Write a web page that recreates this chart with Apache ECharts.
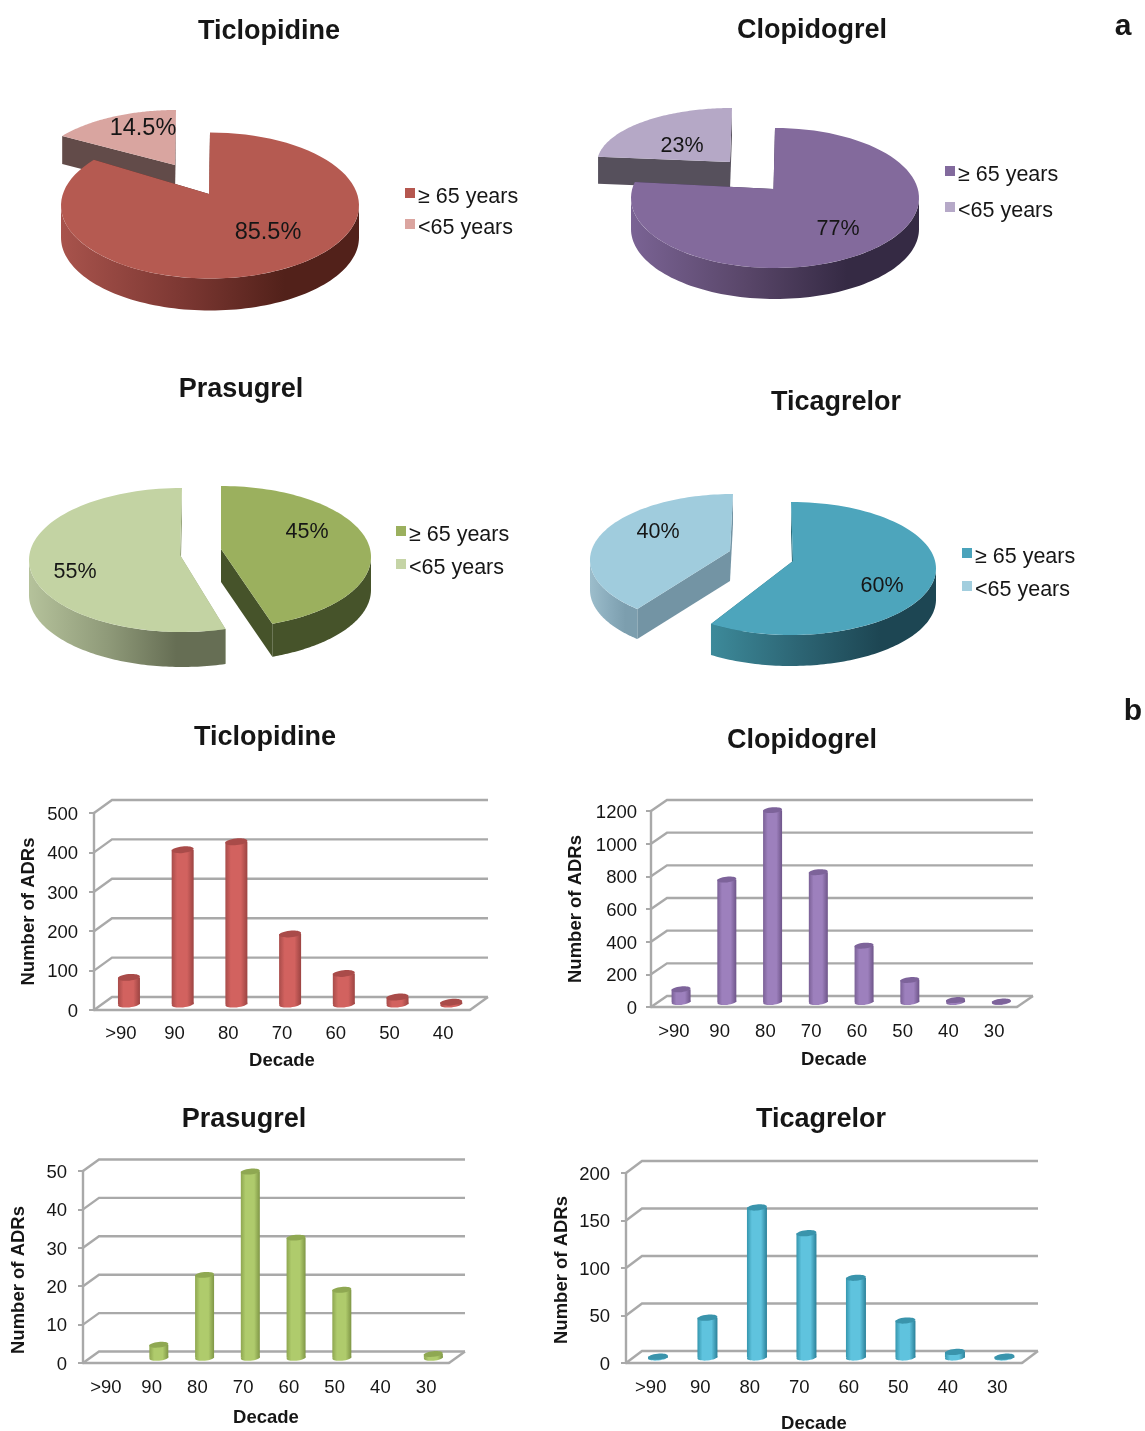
<!DOCTYPE html>
<html><head><meta charset="utf-8">
<style>html,body{margin:0;padding:0;background:#fff}#c{width:1145px;height:1431px}</style>
<script src="https://cdn.jsdelivr.net/npm/echarts@6/dist/echarts.min.js"></script>
</head><body><div id="c"></div>
<script>
// ---- data ----
const drugs = ['Ticlopidine', 'Clopidogrel', 'Prasugrel', 'Ticagrelor'];
const ageLabels = ['≥ 65 years', '<65 years'];
const shareTiclopidine = [85.5, 14.5];
const shareClopidogrel = [77, 23];
const sharePrasugrel = [45, 55];
const shareTicagrelor = [60, 40];
const decades7 = ['>90', '90', '80', '70', '60', '50', '40'];
const decades8 = ['>90', '90', '80', '70', '60', '50', '40', '30'];
const adrTiclopidine = [68, 392, 412, 178, 78, 18, 5];
const adrClopidogrel = [78, 750, 1175, 795, 345, 135, 12, 3];
const adrPrasugrel = [0, 3.4, 21.6, 48.5, 31.3, 17.7, 0, 1];
const adrTicagrelor = [1, 42, 158, 131, 84, 39, 6, 1];

// ---- layout and styling ----
const FONT = '"Liberation Sans", Arial, sans-serif';
const INK = '#161616';
const GRID = '#a9a9a9';

// nudge: small perspective correction, in degrees, of where the slice's edges land on its ellipse
const piePanels = [
  { values: shareTiclopidine, legend: [405, 186, 31], icon: ['#b5574f', '#dba5a0'], labelSize: 23.5,
    slices: [
      { cx: 210, cy: 205.5, rx: 149, ry: 73, ax: 209, ay: 194, depth: 32, top: '#b55a51', cut: '#5a2a24', nudge: [0, 1],
        wall: ['#a8534c', '#7d3833', '#52211a', '#52211a'], label: [268, 232.5] },
      { cx: 176, cy: 177, rx: 144, ry: 67, ax: 175, ay: 165, depth: 28, top: '#d9a5a0', cut: '#624b49', nudge: [0, 0],
        wall: ['#624b49', '#624b49', '#624b49', '#624b49'], label: [143, 128.5] } ] },
  { values: shareClopidogrel, legend: [945, 164, 36], icon: ['#826a9d', '#b6a9c8'], labelSize: 21.5,
    slices: [
      { cx: 775, cy: 198, rx: 144, ry: 70, ax: 773.5, ay: 189, depth: 31, top: '#836a9c', cut: '#3d3050', nudge: [0, 6],
        wall: ['#7a6394', '#594669', '#352a44', '#352a44'], label: [838, 229] },
      { cx: 732, cy: 163.6, rx: 135, ry: 55.6, ax: 730, ay: 162, depth: 27, top: '#b5a8c6', cut: '#56505c', nudge: [0, 0],
        wall: ['#56505c', '#56505c', '#56505c', '#56505c'], label: [682, 146] } ] },
  { values: sharePrasugrel, legend: [396, 524, 33], icon: ['#9bb05e', '#c5d4a6'], labelSize: 21.5,
    slices: [
      { cx: 221, cy: 557, rx: 150, ry: 71, ax: 221, ay: 549, depth: 33, top: '#9bb05e', cut: '#46532a', nudge: [0, -2],
        wall: ['#46532a', '#46532a', '#46532a', '#46532a'], label: [307, 532] },
      { cx: 182, cy: 560, rx: 153, ry: 72, ax: 180, ay: 555, depth: 35, top: '#c3d3a3', cut: '#9aa77f', nudge: [1.5, 0],
        wall: ['#b5c29b', '#8f9a79', '#666e54', '#666e54'], label: [75, 572] } ] },
  { values: shareTicagrelor, legend: [962, 546, 33], icon: ['#4aa3bb', '#a2cede'], labelSize: 21.5,
    slices: [
      { cx: 791, cy: 568.5, rx: 145, ry: 66.5, ax: 793, ay: 561, depth: 31, top: '#4da5bc', cut: '#2a6d7b', nudge: [0, -2.5],
        wall: ['#3d8a9a', '#2c6473', '#1d4653', '#1d4653'], label: [882, 586] },
      { cx: 733, cy: 560, rx: 143, ry: 66, ax: 730, ay: 551, depth: 30, top: '#a0ccdd', cut: '#7394a4', nudge: [6, 0],
        wall: ['#9cbdcb', '#8aacbc', '#7c9eae', '#7c9eae'], label: [658, 532] } ] }
];

const barPanels = [
  { cats: decades7, values: adrTiclopidine, max: 500, step: 100, left: 94, top: 813, width: 376, height: 197, dx: 18, dy: 13,
    rx: 11, color: ['#a84c4a', '#d2625f', '#d2625f', '#9c4442', '#a94b49'], yGap: 56, yPad: [0, 0, 0, 0], xGap: 41, xPad: [0, 0, 0, 0], yMargin: 16, xMargin: 14 },
  { cats: decades8, values: adrClopidogrel, max: 1200, step: 200, left: 651, top: 811, width: 366, height: 196, dx: 16, dy: 11,
    rx: 9.5, color: ['#7a6096', '#9d80bd', '#9d80bd', '#6e5589', '#7d639a'], yGap: 66, yPad: [0, 0, 0, 0], xGap: 43, xPad: [0, 0, 0, 0], yMargin: 14, xMargin: 15 },
  { cats: decades8, values: adrPrasugrel, max: 50, step: 10, left: 83, top: 1171, width: 366, height: 192, dx: 16, dy: 11.5,
    rx: 9.5, color: ['#8ea650', '#afcb6c', '#afcb6c', '#7f9646', '#8fa852'], yGap: 55, yPad: [0, 26, 0, 0], xGap: 45, xPad: [0, 0, 0, 0], yMargin: 16, xMargin: 15 },
  { cats: decades8, values: adrTicagrelor, max: 200, step: 50, left: 626, top: 1173, width: 396, height: 190, dx: 16, dy: 12,
    rx: 10, color: ['#3596ae', '#5fc3de', '#5fc3de', '#2b8098', '#3a94ac'], yGap: 55, yPad: [0, 4, 0, 0], xGap: 51, xPad: [0, 20, 0, 0], yMargin: 16, xMargin: 15 }
];

const titleSpots = [
  [drugs[0], 269, 30], [drugs[1], 812, 29], [drugs[2], 241, 388], [drugs[3], 836, 401],
  [drugs[0], 265, 736], [drugs[1], 802, 739], [drugs[2], 244, 1118], [drugs[3], 821, 1118]
];

// ---- renderers ----
function gradient(stops) {
  const at = [0, 0.4, 0.75, 1];
  return new echarts.graphic.LinearGradient(0, 0, 1, 0, stops.map((c, i) => ({ offset: at[i], color: c })));
}
function sliceRenderer(panel, idx) {
  const s = panel.slices[idx];
  const total = panel.values.reduce((a, b) => a + b, 0);
  const before = panel.values.slice(0, idx).reduce((a, b) => a + b, 0);
  return function (params, api) {
    const a0 = before / total * 2 * Math.PI + s.nudge[0] * Math.PI / 180;
    const a1 = (before + api.value(0)) / total * 2 * Math.PI + s.nudge[1] * Math.PI / 180;
    const pt = t => [s.cx + s.rx * Math.sin(t), s.cy - s.ry * Math.cos(t)];
    const arc = [];
    const N = 90;
    for (let i = 0; i <= N; i++) arc.push(pt(a0 + (a1 - a0) * i / N));
    const down = p => [p[0], p[1] + s.depth];
    const apex = [s.ax, s.ay];
    const kids = [];
    [arc[0], arc[N]].forEach(p => kids.push({
      type: 'polygon', shape: { points: [apex, p, down(p), down(apex)] },
      style: { fill: s.cut }
    }));
    const lo = Math.max(a0, Math.PI / 2), hi = Math.min(a1, 1.5 * Math.PI);
    if (hi > lo) {
      const edge = [];
      for (let i = 0; i <= N; i++) edge.push(pt(lo + (hi - lo) * i / N));
      kids.push({
        type: 'polygon', shape: { points: edge.concat(edge.slice().reverse().map(down)) },
        style: { fill: gradient(s.wall) }
      });
    }
    kids.push({ type: 'polygon', shape: { points: [apex].concat(arc) }, style: { fill: s.top } });
    kids.push({
      type: 'text', x: s.label[0], y: s.label[1],
      style: { text: api.value(0) + '%', fill: INK, font: panel.labelSize + 'px ' + FONT, align: 'center', verticalAlign: 'middle' }
    });
    return { type: 'group', children: kids };
  };
}
function frameRenderer(p) {
  return function (params, api) {
    const rect = params.coordSys;
    const y = api.coord([0, api.value(1)])[1];
    const right = rect.x + rect.width;
    const ls = { stroke: GRID, lineWidth: 2.4, fill: null };
    const kids = [{
      type: 'polyline',
      shape: { points: [[rect.x, y], [rect.x + p.dx, y - p.dy], [right + p.dx, y - p.dy]] },
      style: ls
    }];
    if (api.value(1) === 0) kids.push({
      type: 'line', shape: { x1: right, y1: y, x2: right + p.dx, y2: y - p.dy }, style: ls
    });
    return { type: 'group', children: kids };
  };
}
function cylinderRenderer(p) {
  const c = p.color;
  return function (params, api) {
    const v = api.value(1);
    if (!v) return null;
    const base = api.coord([api.value(0), 0]);
    const top = api.coord([api.value(0), v]);
    const x = base[0] + p.dx * 0.45, y0 = base[1] - p.dy * 0.45, y1 = top[1] - p.dy * 0.45;
    const ry = p.rx * 0.3, tilt = 0.1;
    const body = () => new echarts.graphic.LinearGradient(0, 0, 1, 0, [
      { offset: 0, color: c[0] }, { offset: 0.25, color: c[1] }, { offset: 0.7, color: c[2] }, { offset: 1, color: c[3] }
    ]);
    return {
      type: 'group', children: [
        { type: 'ellipse', x: x, y: y0, rotation: tilt, shape: { cx: 0, cy: 0, rx: p.rx, ry: ry }, style: { fill: body() } },
        { type: 'rect', shape: { x: x - p.rx, y: y1, width: p.rx * 2, height: y0 - y1 }, style: { fill: body() } },
        { type: 'ellipse', x: x, y: y1, rotation: tilt, shape: { cx: 0, cy: 0, rx: p.rx, ry: ry }, style: { fill: c[4] } }
      ]
    };
  };
}

// ---- option ----
const title = titleSpots.map(t => ({
  text: t[0], left: t[1], top: t[2] - 12, textAlign: 'center', padding: 0,
  textStyle: { fontFamily: FONT, fontSize: 27, fontWeight: 'bold', color: INK }
}));
[['a', 1123, 24], ['b', 1133, 709]].forEach(t => title.push({
  text: t[0], left: t[1], top: t[2] - 12, textAlign: 'center', padding: 0,
  textStyle: { fontFamily: FONT, fontSize: 30, fontWeight: 'bold', color: INK }
}));

const legend = piePanels.map(p => ({
  orient: 'vertical', left: p.legend[0], top: p.legend[1], padding: 0,
  icon: 'rect', itemWidth: 10, itemHeight: 10, itemGap: p.legend[2] - 22, selectedMode: false,
  data: ageLabels.map((n, i) => ({ name: n, itemStyle: { color: p.icon[i] } })),
  formatter: '{t|{name}}',
  textStyle: { fontFamily: FONT, fontSize: 21.5, color: INK,
    rich: { t: { fontFamily: FONT, fontSize: 21.5, color: INK, padding: [8, 0, 0, -2] } } }
}));

const series = [];
piePanels.forEach(p => {
  [1, 0].forEach(i => series.push({
    type: 'custom', name: ageLabels[i], coordinateSystem: 'none', z: 3 + (i === 0 ? 1 : 0), silent: true,
    itemStyle: { color: p.icon[i] }, data: [[p.values[i]]], renderItem: sliceRenderer(p, i)
  }));
});

const labelStyle = { fontFamily: FONT, fontSize: 18.5, color: INK };
const nameStyle = { fontFamily: FONT, fontSize: 18.5, fontWeight: 'bold', color: INK };
const grid = [], xAxis = [], yAxis = [];
barPanels.forEach((p, i) => {
  grid.push({ left: p.left, top: p.top, width: p.width, height: p.height, containLabel: false, outerBoundsMode: 'none' });
  xAxis.push({
    gridIndex: i, type: 'category', data: p.cats, name: 'Decade', nameLocation: 'middle', nameGap: p.xGap,
    nameTextStyle: Object.assign({ padding: p.xPad }, nameStyle),
    axisLine: { lineStyle: { color: GRID, width: 2.4 } }, axisTick: { show: false },
    axisLabel: Object.assign({ margin: p.xMargin, interval: 0 }, labelStyle)
  });
  yAxis.push({
    gridIndex: i, type: 'value', min: 0, max: p.max, interval: p.step, name: 'Number of ADRs', nameLocation: 'middle',
    nameGap: p.yGap, nameRotate: 90, nameTextStyle: Object.assign({ padding: p.yPad }, nameStyle),
    axisLine: { show: true, lineStyle: { color: GRID, width: 2.4 } },
    axisTick: { show: true, length: 5, lineStyle: { color: GRID, width: 2 } },
    splitLine: { show: false },
    axisLabel: Object.assign({ margin: p.yMargin, verticalAlign: 'top', lineHeight: 3.5, formatter: v => String(v) }, labelStyle)
  });
  const ticks = [];
  for (let t = 0; t <= p.max; t += p.step) ticks.push([0, t]);
  series.push({
    type: 'custom', xAxisIndex: i, yAxisIndex: i, z: 1, silent: true, clip: false,
    encode: { x: 0, y: 1 }, data: ticks, renderItem: frameRenderer(p)
  });
  series.push({
    type: 'custom', xAxisIndex: i, yAxisIndex: i, z: 2, silent: true, clip: false,
    encode: { x: 0, y: 1 }, data: p.values.map((v, k) => [k, v]), renderItem: cylinderRenderer(p)
  });
});

const chart = echarts.init(document.getElementById('c'), null, { renderer: 'canvas' });
chart.setOption({ animation: false, backgroundColor: '#fff', title, legend, grid, xAxis, yAxis, series });
</script></body></html>
